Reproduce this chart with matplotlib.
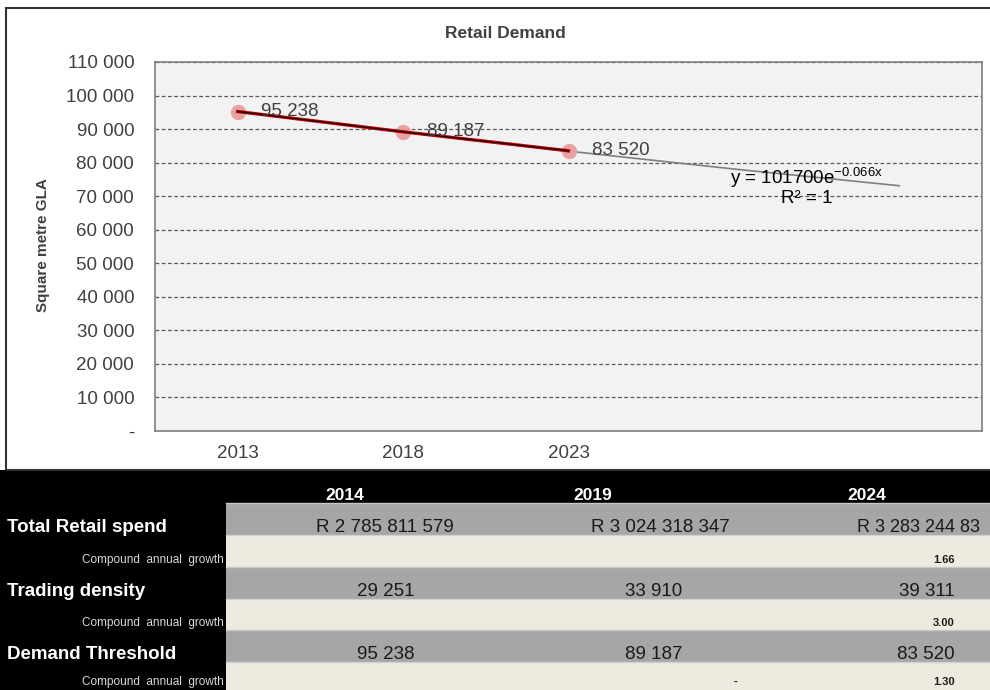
import numpy as np
import matplotlib
matplotlib.use('Agg')
import matplotlib.pyplot as plt
from matplotlib.patches import Rectangle
from matplotlib.ticker import FuncFormatter

plt.rcParams['font.family'] = ['Liberation Sans', 'DejaVu Sans']
plt.rcParams['mathtext.fontset'] = 'custom'
plt.rcParams['mathtext.rm'] = 'Liberation Sans'
plt.rcParams['mathtext.it'] = 'Liberation Sans'

# Данные графика
years = ['2013', '2018', '2023']
demand = [95238, 89187, 83520]
n_slots = 5                      # две пустые категории под прогноз тренда
trend_a, trend_b = 101700, -0.066
y_ticks = list(range(0, 110001, 10000))

# Данные таблицы
table_years = ['2014', '2019', '2024']
row_names = ['Total Retail spend', 'Trading density', 'Demand Threshold']
retail_spend = ['R 2 785 811 579', 'R 3 024 318 347', 'R 3 283 244 83']
trading_density = [29251, 33910, 39311]
demand_threshold = [95238, 89187, 83520]
growth_spend = ['', '', '1.66']
growth_density = ['', '', '3.00']
growth_demand = ['', '-', '1.30']


def fmt_num(v):
    return f'{int(v):,}'.replace(',', ' ')


W, H = 990, 690
fig = plt.figure(figsize=(W / 100, H / 100), dpi=100)
fig.patch.set_facecolor('white')


def px_box(x0, y0, x1, y1):
    # пиксели (сверху вниз) -> доли фигуры
    return [x0 / W, 1 - y1 / H, (x1 - x0) / W, (y1 - y0) / H]


# Рамка области диаграммы
fig.patches.append(Rectangle((6 / W, 1 - 470 / H), 990 / W, 462 / H,
                             transform=fig.transFigure, fill=False,
                             edgecolor='#333333', linewidth=1.5))

ax = fig.add_axes(px_box(155, 62, 982, 431))
ax.set_facecolor('#f2f2f2')
for s in ax.spines.values():
    s.set_color('#7f7f7f')
    s.set_linewidth(1.2)

x = np.arange(len(years))
xt = np.arange(n_slots)
trend = trend_a * np.exp(trend_b * (xt + 1))

ax.plot(xt, trend, color='#7f7f7f', linewidth=1.2, zorder=2)
ax.plot(x, demand, 'o', color='#e8a2a2', markersize=10, zorder=2.5)
ax.plot(x, demand, color='#c00000', linewidth=2.4, zorder=3)
ax.plot(x, demand, color='black', linewidth=0.8, zorder=4)

for xi, v in zip(x, demand):
    ax.annotate(fmt_num(v), (xi, v), xytext=(17, 0), textcoords='offset points',
                ha='left', va='center', fontsize=13.5, color='#404040', zorder=5)

ax.text(3.44, 73000, 'y = 101700e$^{\\mathregular{-0.066x}}$\nR² = 1',
        ha='center', va='center', fontsize=13.5, color='black', linespacing=1.0)

ax.set_xlim(-0.5, n_slots - 0.5)
ax.set_ylim(0, 110000)
ax.set_xticks(xt)
ax.set_xticklabels(years + [''] * (n_slots - len(years)))
ax.set_yticks(y_ticks)
ax.yaxis.set_major_formatter(FuncFormatter(lambda v, p: '-' if v == 0 else fmt_num(v)))
ax.tick_params(axis='y', length=0, pad=15, labelsize=13.5, labelcolor='#404040')
ax.tick_params(axis='x', length=0, pad=10, labelsize=13.5, labelcolor='#404040')
ax.grid(axis='y', color='#595959', linestyle=(0, (3, 2)), linewidth=0.9)
ax.set_axisbelow(True)

fig.text(505 / W, 1 - 33 / H, 'Retail Demand', ha='center', va='center',
         fontsize=12.5, fontweight='bold', color='#404040')
fig.text(43 / W, 1 - 245 / H, 'Square metre GLA', ha='center', va='center',
         rotation=90, fontsize=11, fontweight='bold', color='#404040')

# Таблица под графиком
tax = fig.add_axes([0, 0, 1, 220 / H])
tax.set_xlim(0, W)
tax.set_ylim(H, 470)
tax.axis('off')
tax.add_patch(Rectangle((0, 470), W, 220, facecolor='black', edgecolor='none'))

row_tops = [503, 567, 630]
row_h = 32
values = [retail_spend,
          [fmt_num(v) for v in trading_density],
          [fmt_num(v) for v in demand_threshold]]
growths = [growth_spend, growth_density, growth_demand]

for i, top in enumerate(row_tops):
    tax.add_patch(Rectangle((226, top), W - 226, row_h, facecolor='#a6a6a6',
                            edgecolor='none'))
    g_bottom = row_tops[i + 1] if i + 1 < len(row_tops) else H
    tax.add_patch(Rectangle((226, top + row_h), W - 226, g_bottom - top - row_h,
                            facecolor='#edebe0', edgecolor='none'))
    tax.plot([226, W], [top + row_h, top + row_h], color='#d0d0d0', linewidth=1)
    tax.plot([226, W], [top, top], color='#c8c8c8', linewidth=1)

    base = top + row_h - 3
    tax.text(7, base, row_names[i], ha='left', va='baseline', fontsize=13.5,
             fontweight='bold', color='white')
    gy = g_bottom - 4 if i < 2 else 685
    tax.text(224, gy, 'Compound  annual  growth', ha='right',
             va='baseline', fontsize=8.5, color='#d9d9d9')

    v = values[i]
    if i == 0:
        tax.text(385, base, v[0], ha='center', va='baseline', fontsize=13.5, color='#1a1a1a')
        tax.text(660, base, v[1], ha='center', va='baseline', fontsize=13.5, color='#1a1a1a')
        tax.text(857, base, v[2], ha='left', va='baseline', fontsize=13, color='#1a1a1a')
    else:
        tax.text(386, base, v[0], ha='center', va='baseline', fontsize=13.5, color='#1a1a1a')
        tax.text(654, base, v[1], ha='center', va='baseline', fontsize=13.5, color='#1a1a1a')
        tax.text(955, base, v[2], ha='right', va='baseline', fontsize=13.5, color='#1a1a1a')

    for gx, gv in zip([737, 955], growths[i][1:]):
        tax.text(gx, gy, gv, ha='right', va='baseline', fontsize=8,
                 fontweight='bold', color='#1a1a1a')

for cx, yr in zip([345, 593, 867], table_years):
    tax.text(cx, 500, yr, ha='center', va='baseline', fontsize=12.5,
             fontweight='bold', color='white')

fig.savefig('out.png', dpi=100)
